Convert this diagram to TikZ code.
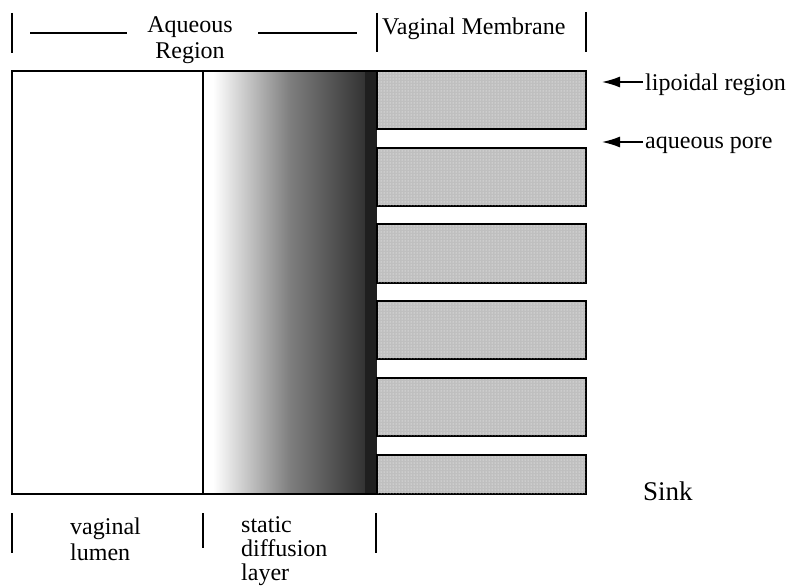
\documentclass[tikz,border=0pt]{standalone}
\usepackage{fontspec}
\setmainfont{Liberation Serif}
\usetikzlibrary{arrows.meta,patterns}
\begin{document}
\begin{tikzpicture}[x=1pt,y=-1pt,
  txt/.style={font=\fontsize{24}{25.5}\selectfont, inner sep=0pt, align=left},
  bigtxt/.style={font=\fontsize{27}{30}\selectfont, inner sep=0pt},
  tickline/.style={line width=1.4pt},
  frame/.style={line width=1.6pt},
  barbox/.style={draw, line width=1.6pt, fill=black!25},
  pointer/.style={line width=1.4pt, -{Latex[length=18pt,width=11pt]}}]
\useasboundingbox (0,0) rectangle (791,586);
% gradient (static diffusion layer)
\shade[left color=white, right color=black!80, middle color=black!50] (213,71) rectangle (365,494);
\fill[black!88] (365,71) rectangle (377,494);
% frame of aqueous region
\draw[frame] (377,71) -- (12,71) -- (12,494) -- (586,494);
\draw[line width=1.2pt] (203,71) -- (203,494);
% membrane bars
\foreach \t/\b in {71/129,148/206,224/283,301/359,378/436,455/494}{
  \draw[barbox] (377,\t) rectangle (586,\b);
  \fill[pattern=dots, pattern color=white] (378,\t+1) rectangle (585,\b-1);
}
% top labels
\draw[tickline] (12,13) -- (12,53);
\draw[tickline] (377,13) -- (377,52);
\draw[tickline] (586,12) -- (586,52);
\draw[line width=1.2pt] (30,33) -- (127,33);
\draw[line width=1.2pt] (258,33) -- (357,33);
\node[txt, anchor=base, align=center] (aq) at (190,58) {Aqueous\\Region};
\node[txt, anchor=base west] (vm) at (382,35) {Vaginal Membrane};
% right labels
\node[txt, anchor=base west] (lip) at (645,90) {lipoidal region};
\node[txt, anchor=base west] (pore) at (645,148) {aqueous pore};
\coordinate (liptip) at (602,82);
\coordinate (poretip) at (602,142);
\draw[pointer] (lip.west |- liptip) ++(-2,0) -- (liptip);
\draw[pointer] (pore.west |- poretip) ++(-2,0) -- (poretip);
\node[bigtxt, anchor=base west] (sink) at (643,500) {Sink};
% bottom labels
\draw[tickline] (12,513) -- (12,553);
\draw[tickline] (203,513) -- (203,548);
\draw[tickline] (376,513) -- (376,553);
\node[txt, anchor=base west] (lumen) at (70,560) {vaginal\\lumen};
\node[txt, font=\fontsize{24}{24}\selectfont, anchor=base west] (sdl) at (241,580) {static\\diffusion\\layer};
\end{tikzpicture}
\end{document}
